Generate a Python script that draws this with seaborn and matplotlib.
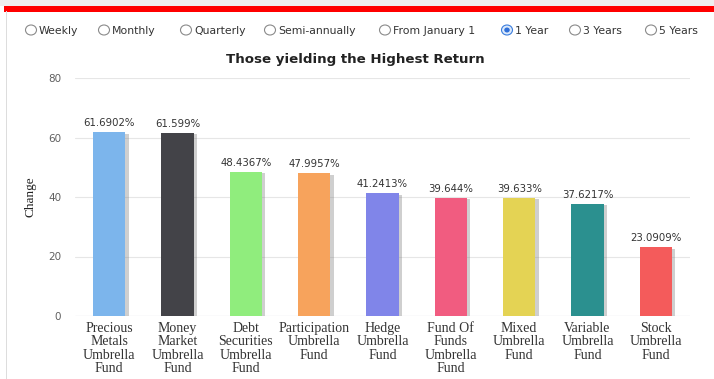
import textwrap

import matplotlib
matplotlib.use("Agg")
import matplotlib.pyplot as plt
import matplotlib.patheffects as pe
from matplotlib.patches import Ellipse, Rectangle
import pandas as pd
import seaborn as sns

# Fund categories and their 1-year change (%)
categories = [
    "Precious Metals Umbrella Fund",
    "Money Market Umbrella Fund",
    "Debt Securities Umbrella Fund",
    "Participation Umbrella Fund",
    "Hedge Umbrella Fund",
    "Fund Of Funds Umbrella Fund",
    "Mixed Umbrella Fund",
    "Variable Umbrella Fund",
    "Stock Umbrella Fund",
]
changes = [61.6902, 61.599, 48.4367, 47.9957, 41.2413, 39.644, 39.633, 37.6217, 23.0909]
value_labels = ["61.6902%", "61.599%", "48.4367%", "47.9957%", "41.2413%",
                "39.644%", "39.633%", "37.6217%", "23.0909%"]
period_options = ["Weekly", "Monthly", "Quarterly", "Semi-annually",
                  "From January 1", "1 Year", "3 Years", "5 Years"]
selected_period = "1 Year"
y_ticks = [0, 20, 40, 60, 80]

palette = ["#7cb5ec", "#434348", "#90ed7d", "#f7a35c", "#8085e9",
           "#f15c80", "#e4d354", "#2b908f", "#f45b5b"]

W, H = 714, 379
sns.set_theme(style="white")
fig = plt.figure(figsize=(W / 100, H / 100), dpi=100)
fig.patch.set_facecolor("white")


def fx(px):
    return px / W


def fy(py):
    return 1 - py / H


# page header: grey strip, red rule, left frame line
fig.add_artist(Rectangle((0, fy(6)), 1, 6 / H, transform=fig.transFigure,
                         facecolor="#efefef", edgecolor="none"))
fig.add_artist(Rectangle((fx(4), fy(11.5)), 1, 5.5 / H, transform=fig.transFigure,
                         facecolor="#ff0000", edgecolor="none"))
fig.add_artist(Rectangle((fx(6), 0), 1 / W, fy(11), transform=fig.transFigure,
                         facecolor="#dddddd", edgecolor="none"))

# period selector row
radio_x = [31, 104, 186, 270, 385, 507, 575, 651]
for cx, name in zip(radio_x, period_options):
    chosen = name == selected_period
    fig.add_artist(Ellipse((fx(cx), fy(30)), 11 / W, 10 / H, transform=fig.transFigure,
                           facecolor="#dbe9fb" if chosen else "white",
                           edgecolor="#3b7ddd" if chosen else "#8a8a8a", lw=0.8))
    if chosen:
        fig.add_artist(Ellipse((fx(cx), fy(30)), 5.5 / W, 5 / H, transform=fig.transFigure,
                               facecolor="#2f6fd8", edgecolor="none"))
    fig.text(fx(cx + 8), fy(30.5), name, fontsize=7.8, color="#333333",
             va="center", ha="left", family="DejaVu Sans")

# chart
ax = fig.add_axes([fx(75), fy(316), (690 - 75) / W, (316 - 78) / H])
df = pd.DataFrame({"category": categories, "change": changes})
sns.barplot(data=df, x="category", y="change", hue="category", palette=palette,
            width=0.47, legend=False, ax=ax, saturation=1)

for bar in ax.patches:
    bar.set_edgecolor("none")
    bar.set_path_effects([pe.SimplePatchShadow(offset=(2.5, -1), shadow_rgbFace="#777777",
                                               alpha=0.35), pe.Normal()])

for bar, label in zip(ax.patches, value_labels):
    ax.annotate(label, (bar.get_x() + bar.get_width() / 2, bar.get_height()),
                xytext=(0, 4), textcoords="offset pixels", ha="center", va="bottom",
                fontsize=7.3, color="#333333", family="DejaVu Sans")

ax.set_ylim(0, 80)
ax.set_xlim(-0.5, len(categories) - 0.5)
ax.set_yticks(y_ticks)
ax.set_yticklabels([str(t) for t in y_ticks], fontsize=7.5, color="#606060",
                   family="DejaVu Sans")
ax.yaxis.grid(True, color="#e6e6e6", lw=0.8)
ax.set_axisbelow(True)
for s in ax.spines.values():
    s.set_visible(False)
ax.axhline(0, color="#ccd6eb", lw=0.8, zorder=0)
ax.tick_params(axis="both", length=0)
ax.tick_params(axis="y", pad=10)
ax.tick_params(axis="x", pad=4)

wrapped = [textwrap.fill(c, width=11, break_long_words=False) for c in categories]
ax.set_xticks(range(len(categories)))
ax.set_xticklabels(wrapped, fontsize=10, color="#333333", family="Liberation Serif",
                   linespacing=1.06, va="top")
ax.set_xlabel("")
ax.set_ylabel("Change", fontsize=9.5, family="Liberation Serif", color="#222222",
              labelpad=8)

fig.text(fx(355), fy(60), "Those yielding the Highest Return", ha="center", va="center",
         fontsize=9.6, fontweight="bold", color="#222222", family="DejaVu Sans")

fig.savefig("out.png", dpi=100)
